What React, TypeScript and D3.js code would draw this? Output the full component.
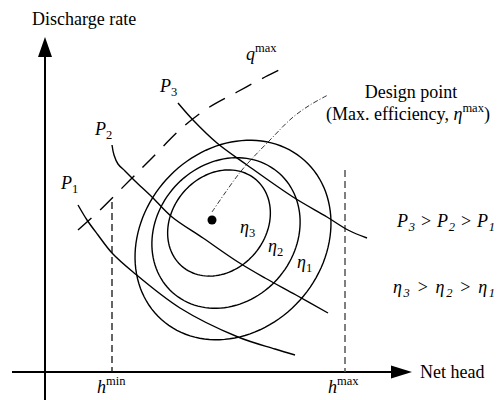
import React, { useEffect, useRef } from "react";
import * as d3 from "d3";

// chart units: net head (u) and discharge (v), measured from the axes crossing
const powerP1: [number, number][] = [[33,167],[42,152],[53,137],[67,119],[88,100],[135,64],[193,35],[230,23],[250,17]];
const powerP2: [number, number][] = [[67,227],[69,217],[73,208],[80,201],[90,191],[107,175],[127,155],[158,134],[193,110],[220,94],[251,77],[283,59]];
const powerP3: [number, number][] = [[133,269],[148,252],[172,229],[202,207],[248,175],[282,155],[303,142],[322,134]];
const qMaxLine: [number, number][] = [[33,142],[53,160],[85,192],[105,212],[138,245],[163,264],[192,280],[220,295],[234,302]];
const designLine: [number, number][] = [[167,160],[180,179],[193,197],[203,209],[225,232],[247,254],[265,267],[283,277]];
const designPoint: [number, number] = [167, 152];

// efficiency contours: center u, center v, semi-major, semi-minor, tilt (deg)
const effNames = ["eta1", "eta2", "eta3"];
const effCenters: [number, number][] = [[188,132],[181,139],[174,149]];
const effAxes: [number, number][] = [[107,90],[80,69],[57,47]];
const effTilt = [48, 48, 50];

const hMin = 67;
const hMax = 300;

const FONT = "'Liberation Serif', 'DejaVu Serif', 'Times New Roman', serif";

type Part = { t: string; it?: boolean; sub?: boolean; sup?: boolean };

function ellipse(c: [number, number], ax: [number, number], tilt: number): [number, number][] {
  const phi = (tilt * Math.PI) / 180;
  const pts: [number, number][] = [];
  for (let k = 0; k < 120; k++) {
    const t = (k / 120) * 2 * Math.PI;
    pts.push([
      c[0] + ax[0] * Math.cos(t) * Math.cos(phi) - ax[1] * Math.sin(t) * Math.sin(phi),
      c[1] + ax[0] * Math.cos(t) * Math.sin(phi) + ax[1] * Math.sin(t) * Math.cos(phi),
    ]);
  }
  return pts;
}

function App() {
  const svgRef = useRef<SVGSVGElement>(null);

  useEffect(() => {
    const svg = d3.select(svgRef.current);
    svg.selectAll("*").remove();

    const x = d3.scaleLinear().domain([0, 367]).range([45, 412]);
    const y = d3.scaleLinear().domain([0, 335]).range([372, 37]);

    const line = d3.line<[number, number]>()
      .x(d => x(d[0]))
      .y(d => y(d[1]))
      .curve(d3.curveCatmullRom);

    const closed = d3.line<[number, number]>()
      .x(d => x(d[0]))
      .y(d => y(d[1]))
      .curve(d3.curveLinearClosed);

    // axes
    svg.append("line")
      .attr("x1", x(0)).attr("x2", x(0))
      .attr("y1", y(-28)).attr("y2", y(320))
      .attr("stroke", "#000").attr("stroke-width", 2);
    svg.append("path")
      .attr("d", `M${x(0)},${y(335)}L${x(0) - 7},${y(315)}L${x(0) + 7},${y(315)}Z`)
      .attr("fill", "#000");
    svg.append("line")
      .attr("x1", x(-33)).attr("x2", x(352))
      .attr("y1", y(0)).attr("y2", y(0))
      .attr("stroke", "#000").attr("stroke-width", 2);
    svg.append("path")
      .attr("d", `M${x(367)},${y(0)}L${x(346)},${y(0) - 6.5}L${x(346)},${y(0) + 6.5}Z`)
      .attr("fill", "#000");

    // head limits
    svg.append("line")
      .attr("x1", x(hMin)).attr("x2", x(hMin))
      .attr("y1", y(170)).attr("y2", y(0))
      .attr("stroke", "#111").attr("stroke-width", 1.3)
      .attr("stroke-dasharray", "7,4");
    svg.append("line")
      .attr("x1", x(hMax)).attr("x2", x(hMax))
      .attr("y1", y(202)).attr("y2", y(0))
      .attr("stroke", "#555").attr("stroke-width", 1.5)
      .attr("stroke-dasharray", "7,4");

    // efficiency contours
    effNames.forEach((n, i) => {
      svg.append("path")
        .attr("class", n)
        .attr("d", closed(ellipse(effCenters[i], effAxes[i], effTilt[i])))
        .attr("fill", "none").attr("stroke", "#000").attr("stroke-width", 1.4);
    });

    // power curves
    [powerP1, powerP2, powerP3].forEach(p => {
      svg.append("path")
        .attr("d", line(p))
        .attr("fill", "none").attr("stroke", "#000").attr("stroke-width", 1.4);
    });

    // max discharge
    svg.append("path")
      .attr("d", line(qMaxLine))
      .attr("fill", "none").attr("stroke", "#000").attr("stroke-width", 1.4)
      .attr("stroke-dasharray", "18,12");

    // design point leader
    svg.append("path")
      .attr("d", line(designLine))
      .attr("fill", "none").attr("stroke", "#000").attr("stroke-width", 0.8)
      .attr("stroke-dasharray", "5,2,1,2");
    svg.append("circle")
      .attr("cx", x(designPoint[0])).attr("cy", y(designPoint[1]))
      .attr("r", 4.5).attr("fill", "#000");

    const g = svg.append("g").attr("font-family", FONT).attr("fill", "#000");

    const label = (lx: number, ly: number, parts: Part[], size = 18, anchor = "start", len = 0) => {
      const text = g.append("text")
        .attr("x", lx).attr("y", ly)
        .attr("font-size", size).attr("text-anchor", anchor);
      if (len) text.attr("textLength", len).attr("lengthAdjust", "spacing");
      let shift = 0;
      parts.forEach(p => {
        const target = p.sub ? 4 : p.sup ? -8 : 0;
        text.append("tspan")
          .attr("dy", target - shift)
          .attr("font-size", p.sub || p.sup ? 12.5 : size)
          .attr("font-style", p.it ? "italic" : "normal")
          .text(p.t);
        shift = target;
      });
    };

    label(32, 25, [{ t: "Discharge rate" }]);
    label(420, 378, [{ t: "Net head" }]);
    label(x(hMin) - 15, 393, [{ t: "h", it: true }, { t: "min", sup: true }]);
    label(x(hMax) - 17, 393, [{ t: "h", it: true }, { t: "max", sup: true }]);
    label(246, 60, [{ t: "q", it: true }, { t: "max", sup: true }]);
    label(160, 92, [{ t: "P", it: true }, { t: "3", sub: true }]);
    label(95, 135, [{ t: "P", it: true }, { t: "2", sub: true }]);
    label(61, 189, [{ t: "P", it: true }, { t: "1", sub: true }]);
    label(411, 98, [{ t: "Design point" }], 18, "middle");
    label(326, 120, [{ t: "(Max. efficiency, " }, { t: "η", it: true }, { t: "max", sup: true }, { t: ")" }]);
    label(240, 233, [{ t: "η", it: true }, { t: "3", sub: true }]);
    label(268, 252, [{ t: "η", it: true }, { t: "2", sub: true }]);
    label(297, 268, [{ t: "η", it: true }, { t: "1", sub: true }]);
    label(397, 227, [
      { t: "P", it: true }, { t: "3", sub: true, it: true }, { t: " > " },
      { t: "P", it: true }, { t: "2", sub: true, it: true }, { t: " > " },
      { t: "P", it: true }, { t: "1", sub: true, it: true },
    ], 18, "start", 98);
    label(393, 293, [
      { t: "η", it: true }, { t: "3", sub: true, it: true }, { t: " > " },
      { t: "η", it: true }, { t: "2", sub: true, it: true }, { t: " > " },
      { t: "η", it: true }, { t: "1", sub: true, it: true },
    ], 18, "start", 102);
  }, []);

  return (
    <svg ref={svgRef}
      width={498}
      height={400}
      style={{ position: "absolute", left: 0, top: 0, background: "#fff" }}
    ></svg>
  );
}

export default App;
